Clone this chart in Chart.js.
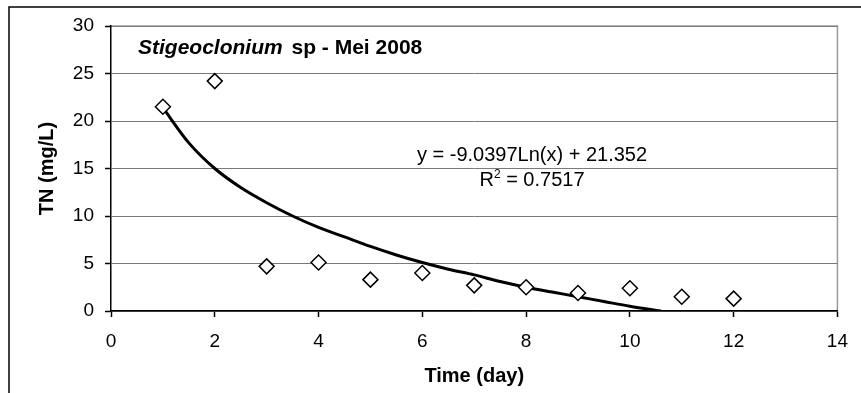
<!DOCTYPE html>
<html>
<head>
<meta charset="utf-8">
<title>Stigeoclonium sp - Mei 2008</title>
<script src="https://cdn.jsdelivr.net/npm/chart.js@4.4.0/dist/chart.umd.min.js"></script>
<style>
  html, body { margin: 0; padding: 0; background: #fff; }
  #wrap { position: relative; width: 861px; height: 393px; }
</style>
</head>
<body>
<div id="wrap"><canvas id="grafikTN" width="861" height="393"></canvas></div>
<script>
// data
const hari = [1, 2, 3, 4, 5, 6, 7, 8, 9, 10, 11, 12];
const nilaiTN = [21.5, 24.2, 4.7, 5.1, 3.3, 4.0, 2.7, 2.5, 1.9, 2.4, 1.5, 1.3];

// garis tren (log)
const trenX = [1, 1.5, 2, 2.5, 3, 3.5, 4, 4.5, 5, 5.5, 6, 6.5, 7, 7.5, 8, 8.5, 9, 9.5, 10, 10.6];
const trenY = [21.4, 17.7, 15.0, 13.0, 11.4, 10.0, 8.8, 7.8, 6.8, 5.9, 5.1, 4.4, 3.8, 3.1, 2.5, 2.0, 1.5, 1.0, 0.5, 0];

const judul = 'Stigeoclonium';
const judulSisa = ' sp - Mei 2008';
const persamaan = 'y = -9.0397Ln(x) + 21.352';
const nilaiR2 = ' = 0.7517';

const FONT = '"Liberation Sans", Arial, sans-serif';

// gambar judul, persamaan dan bingkai
const teksPlugin = {
  id: 'teksPlugin',
  beforeDraw(chart) {
    const ctx = chart.ctx;
    const a = chart.chartArea;
    ctx.save();
    // bingkai luar
    ctx.strokeStyle = '#000';
    ctx.lineWidth = 1.5;
    ctx.beginPath();
    ctx.moveTo(9, 393);
    ctx.lineTo(9, 7);
    ctx.lineTo(861, 7);
    ctx.stroke();
    // bingkai area plot
    ctx.strokeStyle = '#9a9a9a';
    ctx.lineWidth = 1.5;
    ctx.beginPath();
    ctx.moveTo(a.left, a.top);
    ctx.lineTo(a.right, a.top);
    ctx.lineTo(a.right, a.bottom);
    ctx.stroke();
    ctx.restore();
  },
  afterDraw(chart) {
    const ctx = chart.ctx;
    ctx.save();
    ctx.fillStyle = '#000';
    ctx.textBaseline = 'alphabetic';
    ctx.textAlign = 'left';
    // judul
    ctx.font = 'italic bold 21px ' + FONT;
    ctx.fillText(judul, 138, 54);
    const w = ctx.measureText(judul).width;
    ctx.font = 'bold 21px ' + FONT;
    ctx.fillText(judulSisa, 138 + w + 3, 54);
    // persamaan
    ctx.font = '20px ' + FONT;
    ctx.textAlign = 'center';
    ctx.fillText(persamaan, 532, 161);
    // R2
    ctx.textAlign = 'left';
    const wR = ctx.measureText('R').width;
    ctx.font = '12px ' + FONT;
    const w2 = ctx.measureText('2').width;
    ctx.font = '20px ' + FONT;
    const wSisa = ctx.measureText(nilaiR2).width;
    const x0 = 532 - (wR + w2 + wSisa) / 2;
    ctx.fillText('R', x0, 186);
    ctx.font = '12px ' + FONT;
    ctx.fillText('2', x0 + wR, 178);
    ctx.font = '20px ' + FONT;
    ctx.fillText(nilaiR2, x0 + wR + w2, 186);
    ctx.restore();
  }
};

const titik = hari.map((h, i) => ({ x: h, y: nilaiTN[i] }));
const tren = trenX.map((h, i) => ({ x: h, y: trenY[i] }));

new Chart(document.getElementById('grafikTN'), {
  type: 'scatter',
  data: {
    datasets: [
      {
        label: 'Tren',
        data: tren,
        showLine: true,
        borderColor: '#000',
        borderWidth: 3,
        pointRadius: 0,
        cubicInterpolationMode: 'monotone',
        order: 2
      },
      {
        label: 'TN',
        data: titik,
        pointStyle: 'rectRot',
        pointRadius: 7.5,
        pointBorderWidth: 1.5,
        pointBorderColor: '#000',
        pointBackgroundColor: '#fff',
        order: 1
      }
    ]
  },
  options: {
    responsive: false,
    animation: false,
    layout: { padding: { left: 0, right: 19, top: 26, bottom: 0 } },
    plugins: {
      legend: { display: false },
      tooltip: { enabled: false }
    },
    scales: {
      x: {
        type: 'linear',
        min: 0,
        max: 14,
        ticks: { stepSize: 2, color: '#000', padding: 13, font: { family: FONT, size: 19 } },
        grid: { drawOnChartArea: false, drawTicks: true, tickLength: 6, tickColor: '#000', tickWidth: 1.5 },
        border: { color: '#000', width: 1.5 },
        title: {
          display: true,
          text: 'Time (day)',
          color: '#000',
          font: { family: FONT, size: 20, weight: 'bold' },
          padding: { top: 0, bottom: 5 }
        },
        afterFit(scale) { scale.height = 82; }
      },
      y: {
        min: 0,
        max: 30,
        ticks: { stepSize: 5, color: '#000', padding: 11, font: { family: FONT, size: 19 } },
        grid: { color: '#7a7a7a', lineWidth: 1, tickLength: 6, tickColor: '#000', tickWidth: 1.5 },
        border: { color: '#000', width: 1.5 },
        title: {
          display: true,
          text: 'TN (mg/L)',
          color: '#000',
          font: { family: FONT, size: 20, weight: 'bold' },
          padding: { top: 35, bottom: 0 }
        },
        afterFit(scale) { scale.width = 111; }
      }
    }
  },
  plugins: [teksPlugin]
});
</script>
</body>
</html>
